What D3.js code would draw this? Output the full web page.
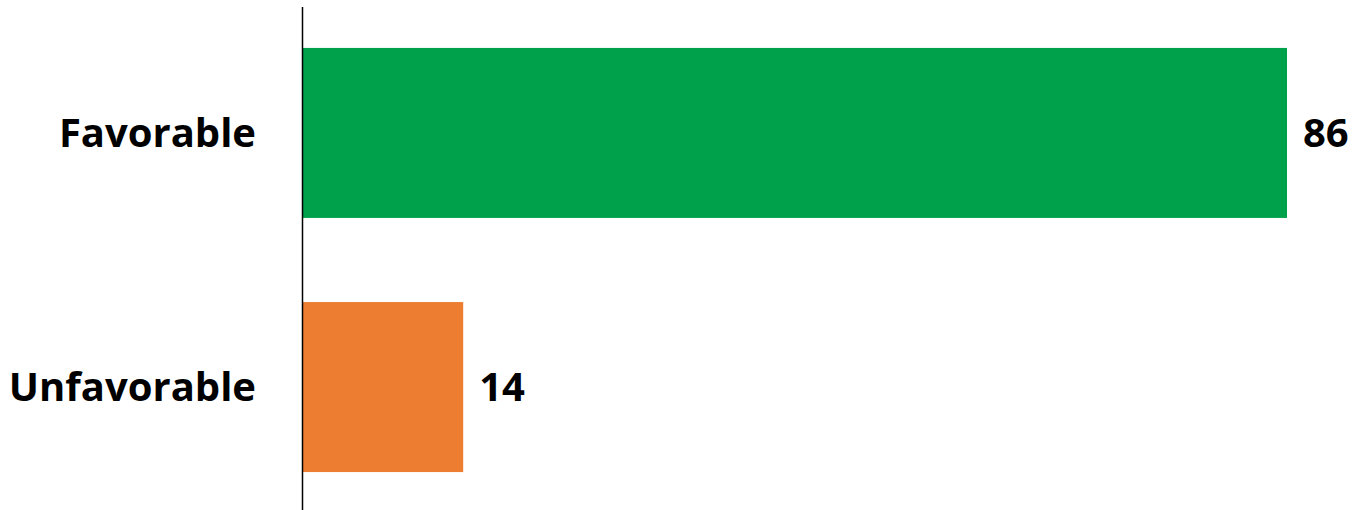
<!DOCTYPE html>
<html>
<head>
<meta charset="utf-8">
<script src="https://cdn.jsdelivr.net/npm/d3@7"></script>
<style>
  body { margin: 0; background: #fff; }
  .label { font-family: "Open Sans", Lato, sans-serif; font-weight: bold; font-size: 40px; fill: #000; }
</style>
</head>
<body>
<div id="chart"></div>
<script>
var width = 1358;
var height = 510;

// data
var categories = ["Favorable", "Unfavorable"];
var values = [86, 14];
var barColours = ["#00A14B", "#ED7D31"];

var svg = d3.select("#chart")
            .append("svg")
              .attr("width", width)
              .attr("height", height);

var axisX = 302;

// scales
var xScale = d3.scaleLinear()
                .domain([0, 86])
                .range([axisX + 1, 1287]);

var yScale = d3.scaleBand()
                .domain(categories)
                .range([6, 514])
                .paddingInner(0.331)
                .paddingOuter(0.165);

// bars
svg.selectAll(".bar")
    .data(values)
    .enter()
   .append("rect")
    .attr("class", "bar")
    .attr("x", xScale(0))
    .attr("y", function(d, i) { return yScale(categories[i]); })
    .attr("width", function(d) { return xScale(d) - xScale(0); })
    .attr("height", yScale.bandwidth())
    .attr("fill", function(d, i) { return barColours[i]; });

// category labels
svg.selectAll(".cat-label")
    .data(categories)
    .enter()
   .append("text")
    .attr("class", "label cat-label")
    .attr("x", 256)
    .attr("y", function(d) { return yScale(d) + yScale.bandwidth() / 2; })
    .attr("dy", "0.36em")
    .attr("text-anchor", "end")
    .text(function(d) { return d; });

// value labels
svg.selectAll(".val-label")
    .data(values)
    .enter()
   .append("text")
    .attr("class", "label val-label")
    .attr("x", function(d) { return xScale(d) + 16; })
    .attr("y", function(d, i) { return yScale(categories[i]) + yScale.bandwidth() / 2; })
    .attr("dy", "0.36em")
    .text(function(d) { return d; });

// axis line
svg.append("line")
    .attr("x1", axisX + 0.5)
    .attr("x2", axisX + 0.5)
    .attr("y1", 7)
    .attr("y2", height)
    .attr("stroke", "#000")
    .attr("stroke-width", 1.5);
</script>
</body>
</html>
